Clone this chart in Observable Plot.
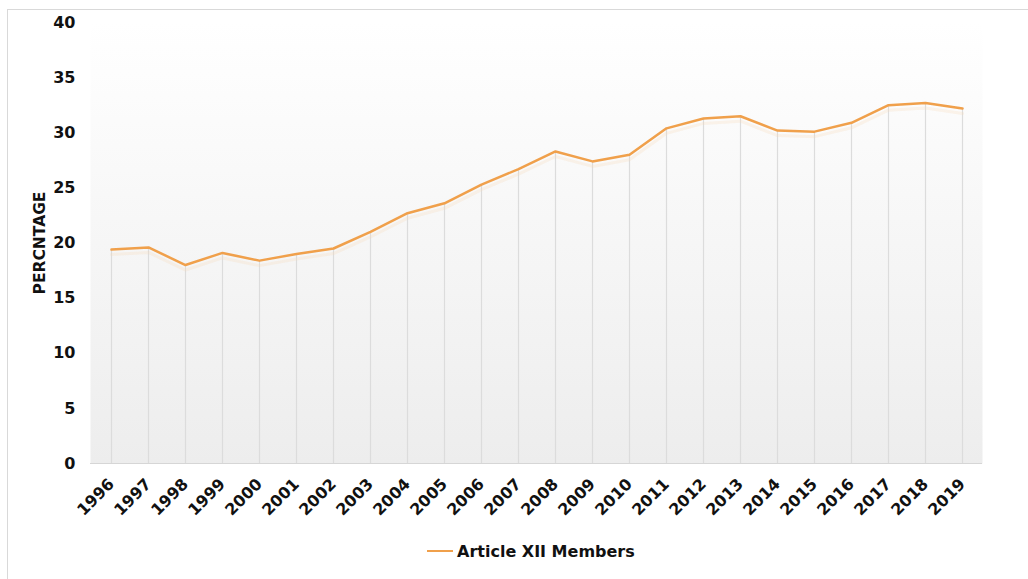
<!DOCTYPE html>
<html>
<head>
<meta charset="utf-8">
<script src="https://cdn.jsdelivr.net/npm/d3@7"></script>
<script src="https://cdn.jsdelivr.net/npm/@observablehq/plot@0.6"></script>
<style>
  html, body { margin: 0; padding: 0; background: #fff; overflow: hidden; width: 1028px; height: 579px; }
  #wrap { position: relative; width: 1028px; height: 579px; }
  #border { position: absolute; left: 7px; top: 9px; width: 1100px; height: 700px; border: 1px solid #d9d9d9; box-sizing: border-box; }
  #chart { position: absolute; left: 0; top: 0; }
  #legend { position: absolute; left: 427px; top: 540px; height: 22px; display: flex; align-items: center;
            font-family: "DejaVu Sans", Verdana, sans-serif; font-weight: bold; font-size: 16px; color: #111; }
  #legend .sw { width: 26px; height: 0; border-top: 2.5px solid #f0a04b; margin-right: 4px; }
</style>
</head>
<body>
<div id="wrap">
  <div id="border"></div>
  <div id="chart"></div>
  <div id="legend"><span class="sw"></span><span>Article XII Members</span></div>
</div>
<script>
const years = ["1996","1997","1998","1999","2000","2001","2002","2003","2004","2005","2006","2007","2008","2009","2010","2011","2012","2013","2014","2015","2016","2017","2018","2019"];
const values = [19.4, 19.6, 18.0, 19.1, 18.4, 19.0, 19.5, 21.0, 22.7, 23.6, 25.3, 26.7, 28.3, 27.4, 28.0, 30.4, 31.3, 31.5, 30.2, 30.1, 30.9, 32.5, 32.7, 32.2];
const yTicks = [0, 5, 10, 15, 20, 25, 30, 35, 40];
const seriesName = "Article XII Members";
const lineColor = "#f0a04b";

const data = years.map((y, i) => ({year: y, value: values[i]}));

const gradientDefs = () => {
  const svg = d3.create("svg:defs");
  const g = svg.append("linearGradient").attr("id", "bgGrad").attr("x1", 0).attr("x2", 0).attr("y1", 0).attr("y2", 1);
  g.append("stop").attr("offset", "0%").attr("stop-color", "#ffffff");
  g.append("stop").attr("offset", "100%").attr("stop-color", "#ededed");
  return svg.node();
};

const chart = Plot.plot({
  width: 1028,
  height: 530,
  marginTop: 22,
  marginBottom: 67,
  marginLeft: 90,
  marginRight: 46,
  style: { fontFamily: "'DejaVu Sans', Verdana, sans-serif", background: "transparent", overflow: "visible" },
  x: { type: "point", domain: years, padding: 0.5 },
  y: { domain: [0, 40], ticks: yTicks },
  marks: [
    gradientDefs,
    Plot.frame({ fill: "url(#bgGrad)", stroke: null }),
    Plot.ruleX(data, { x: "year", y1: 0, y2: "value", stroke: "#dcdcdc", strokeWidth: 1.2 }),
    Plot.ruleY([0], { stroke: "#d6d6d6", strokeWidth: 1.2 }),
    Plot.line(data, { x: "year", y: "value", stroke: "#f8d7b5", strokeWidth: 3, strokeOpacity: 0.25, dy: 5 }),
    Plot.line(data, { x: "year", y: "value", stroke: lineColor, strokeWidth: 2.5, title: () => seriesName }),
    Plot.axisY({
      ticks: yTicks, tickSize: 0, tickPadding: 15,
      fontSize: 16, fontWeight: "bold", fill: "#111",
      label: "PERCNTAGE", labelAnchor: "center", labelOffset: 57, labelArrow: "none"
    }),
    Plot.axisX({
      tickSize: 0, tickPadding: 18, tickRotate: -45,
      fontSize: 16, fontWeight: "bold", fill: "#111", label: null
    })
  ]
});
chart.querySelectorAll("[aria-label='y-axis label'] text, [aria-label='y-axis label']").forEach(e => {
  e.setAttribute("font-size", 15.5); e.setAttribute("font-weight", "bold");
});
document.getElementById("chart").appendChild(chart);
</script>
</body>
</html>
